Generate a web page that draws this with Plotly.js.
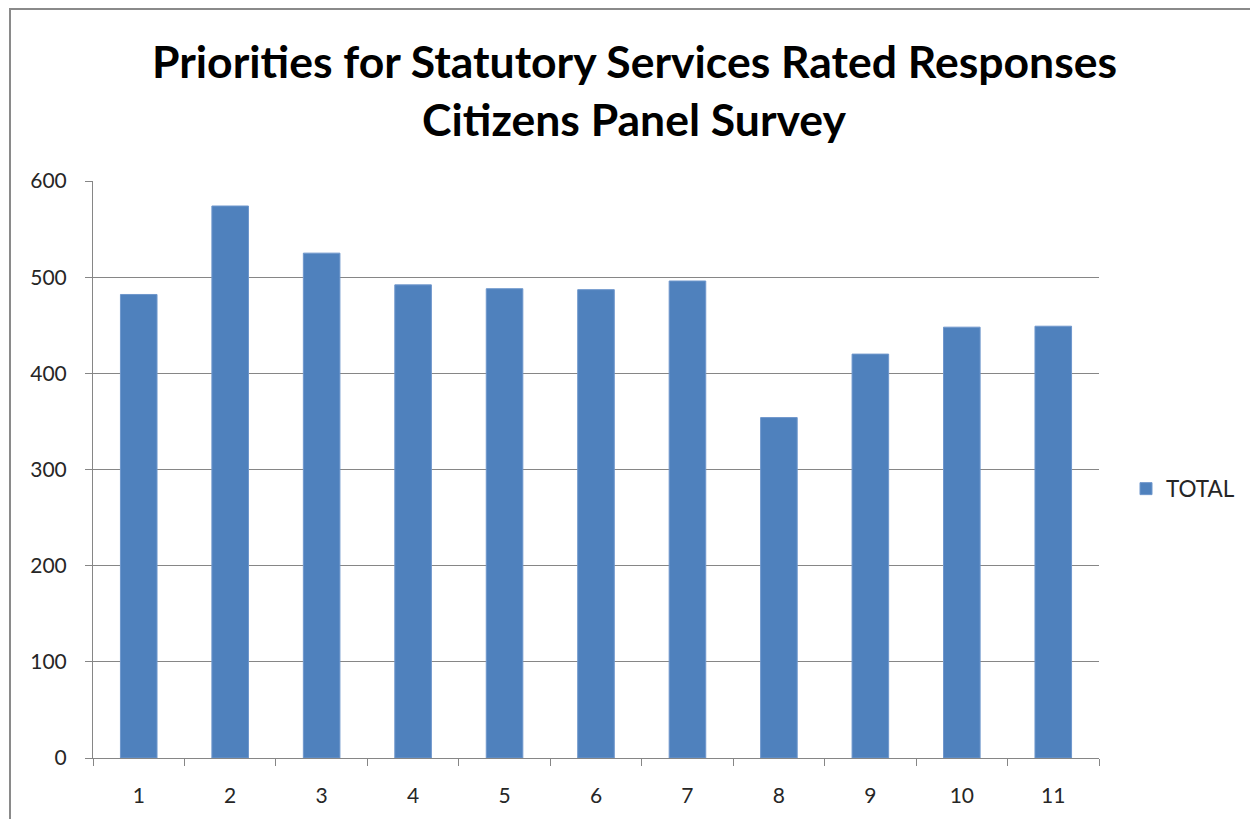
<!DOCTYPE html>
<html>
<head>
<meta charset="utf-8">
<script src="https://cdn.plot.ly/plotly-3.0.1.min.js"></script>
<style>
  html, body { margin: 0; padding: 0; background: #fff; }
  #chart { position: absolute; left: 0; top: 0; width: 1250px; height: 819px; }
  #frame { position: absolute; left: 9px; top: 8px; width: 1260px; height: 840px;
           border: 2px solid #8a8a8a; pointer-events: none; box-sizing: border-box; }
</style>
</head>
<body>
<div id="chart"></div>
<div id="frame"></div>
<script>
const categories = ["1","2","3","4","5","6","7","8","9","10","11"];
const totals = [482, 574, 525, 492, 488, 487, 496, 354, 420, 448, 449];
const seriesName = "TOTAL";
const titleLines = ["Priorities for Statutory Services Rated Responses", "Citizens Panel Survey"];

const font = "Lato, 'Open Sans', sans-serif";

const trace = {
  type: "bar",
  x: categories,
  y: totals,
  name: seriesName,
  marker: { color: "#4f81bd", line: { color: "#6f97cc", width: 1 } },
  width: 0.4,
  showlegend: true
};

const titleY = [61, 118];
const annotations = titleLines.map((t, i) => ({
  text: "<b>" + t + "</b>",
  xref: "paper", yref: "paper",
  x: (634 - 93) / (1250 - 93 - 151), xanchor: "center",
  y: 1 + (181 - titleY[i]) / (819 - 181 - 61), yanchor: "middle",
  showarrow: false,
  font: { family: font, size: 44.5, color: "#000000" }
}));

const layout = {
  width: 1250, height: 819,
  paper_bgcolor: "#ffffff", plot_bgcolor: "#ffffff",
  margin: { l: 93, r: 151, t: 181, b: 61, pad: 0 },
  font: { family: font, color: "#262626", size: 20 },
  annotations: annotations,
  xaxis: {
    type: "category",
    showline: true, linecolor: "#868686", linewidth: 1,
    ticks: "outside", tickson: "boundaries", ticklen: 7, tickcolor: "#868686",
    showgrid: false, zeroline: false,
    tickfont: { family: font, size: 21, color: "#262626" },
    ticklabelstandoff: 19
  },
  yaxis: {
    range: [0, 600], dtick: 100, tick0: 0,
    showline: true, linecolor: "#868686", linewidth: 1,
    ticks: "outside", ticklen: 7, tickcolor: "#868686",
    showgrid: true, gridcolor: "#868686", gridwidth: 1,
    zeroline: false,
    tickfont: { family: font, size: 21, color: "#262626" },
    ticklabelstandoff: 14
  },
  bargap: 0.6,
  legend: {
    xref: "container", x: 1126/1250, xanchor: "left",
    yref: "container", y: 1 - 489/819, yanchor: "middle",
    font: { family: font, size: 22.5, color: "#262626" },
    itemwidth: 30, bgcolor: "rgba(0,0,0,0)"
  }
};

Plotly.newPlot("chart", [trace], layout, { displayModeBar: false, staticPlot: true });
</script>
</body>
</html>
